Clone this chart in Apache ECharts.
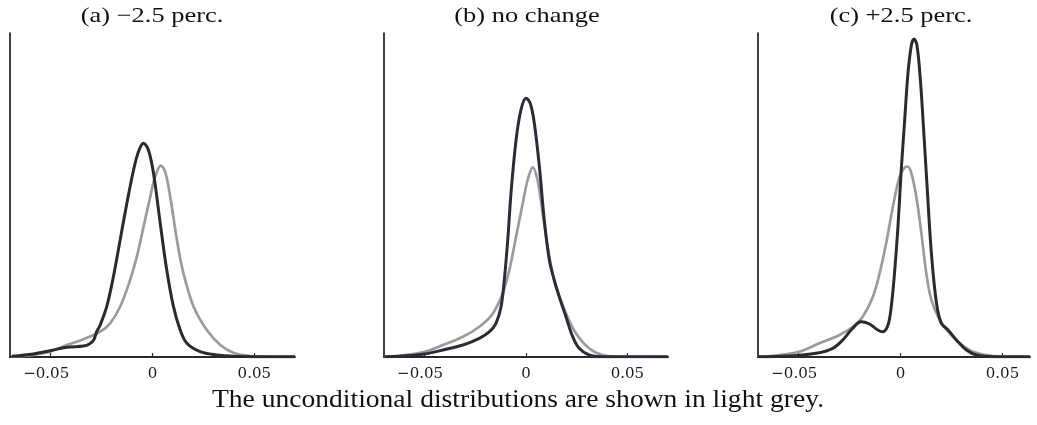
<!DOCTYPE html>
<html>
<head>
<meta charset="utf-8">
<script src="https://cdn.jsdelivr.net/npm/echarts@6/dist/echarts.min.js"></script>
<style>
  html, body { margin: 0; padding: 0; background: #fff; }
  #chart { width: 1037px; height: 425px; }
</style>
</head>
<body>
<div id="chart"></div>
<script>
// ---------- data ----------
const panelTitles = ['(a) \u22122.5 perc.', '(b) no change', '(c) +2.5 perc.'];
const captionText = 'The unconditional distributions are shown in light grey.';
const xTickValues = [-0.05, 0, 0.05];

// panel (a): -2.5 perc.
const darkA = [[-0.0692,0.07],[-0.0585,0.3],[-0.0503,0.63],[-0.0421,0.97],[-0.0339,1.1],[-0.031,1.3],[-0.0289,1.7],[-0.0274,2.53],[-0.0257,3.2],[-0.0225,5.03],[-0.0192,8.03],[-0.0159,11.7],[-0.0126,15.37],[-0.0093,18.7],[-0.0069,20.53],[-0.0044,21.37],[-0.002,20.7],[0.0005,18.37],[0.0038,13.37],[0.007,8.7],[0.0103,5.03],[0.0136,2.7],[0.0169,1.37],[0.0234,0.53],[0.0316,0.2],[0.0398,0.07],[0.0562,0.03],[0.07,0.02]];
const greyA = [[-0.0692,0.03],[-0.0585,0.2],[-0.0503,0.53],[-0.0421,1.2],[-0.0339,1.77],[-0.0257,2.53],[-0.0208,3.37],[-0.0159,5.03],[-0.011,7.7],[-0.0077,10.03],[-0.0044,13.03],[-0.0011,16.03],[0.0013,18.03],[0.0041,19.13],[0.0062,18.53],[0.0087,16.03],[0.012,11.7],[0.0152,8.37],[0.0202,5.03],[0.0267,2.7],[0.0333,1.2],[0.0398,0.43],[0.048,0.1],[0.0562,0.03],[0.07,0.02]];

// panel (b): no change
const darkB = [[-0.0697,0.03],[-0.0607,0.1],[-0.05,0.3],[-0.041,0.7],[-0.0311,1.2],[-0.023,1.87],[-0.018,2.53],[-0.0148,3.37],[-0.0123,5.03],[-0.0107,7.7],[-0.009,11.7],[-0.0074,16.37],[-0.0049,21.7],[-0.0025,24.7],[0,25.87],[0.0021,25.37],[0.0041,23.37],[0.0066,19.03],[0.009,13.7],[0.0115,9.7],[0.0139,7.7],[0.0164,6.03],[0.0197,4.03],[0.023,2.03],[0.0262,0.87],[0.0311,0.2],[0.0377,0.03],[0.07,0.02]];
const greyB = [[-0.0697,0.03],[-0.0607,0.17],[-0.05,0.53],[-0.041,1.2],[-0.0311,2.03],[-0.023,3.03],[-0.0164,4.33],[-0.0115,6.37],[-0.0082,8.7],[-0.0049,12.03],[-0.0016,15.37],[0.0008,17.7],[0.0033,18.97],[0.0057,17.7],[0.0082,14.37],[0.0115,10.03],[0.0148,7.03],[0.0197,4.37],[0.0246,2.37],[0.0311,0.87],[0.0377,0.2],[0.0475,0.03],[0.07,0.02]];

// panel (c): +2.5 perc.
const darkC = [[-0.0703,0.03],[-0.0547,0.1],[-0.0415,0.37],[-0.0333,0.87],[-0.0284,1.7],[-0.0235,2.87],[-0.0194,3.53],[-0.0153,3.3],[-0.0112,2.7],[-0.0087,2.53],[-0.0062,3.2],[-0.0046,5.03],[-0.003,8.37],[-0.0013,13.03],[0.0003,18.7],[0.002,23.7],[0.0036,28.37],[0.0053,31.2],[0.0066,31.8],[0.008,31.2],[0.0097,27.7],[0.0113,22.7],[0.013,17.03],[0.0151,10.37],[0.0176,5.37],[0.02,3.37],[0.0233,2.7],[0.0274,1.7],[0.0323,0.7],[0.0373,0.2],[0.0455,0.03],[0.0635,0.02]];
const greyC = [[-0.0703,0.03],[-0.0596,0.2],[-0.0498,0.53],[-0.0399,1.37],[-0.03,2.2],[-0.0235,3.03],[-0.0186,4.03],[-0.0136,6.03],[-0.0103,8.37],[-0.0071,11.37],[-0.0038,15.03],[-0.0005,18.03],[0.0018,18.9],[0.0034,19.03],[0.0053,18.37],[0.0077,16.03],[0.0102,12.37],[0.0126,8.37],[0.0151,5.7],[0.0192,3.7],[0.0241,2.37],[0.0291,1.37],[0.0356,0.53],[0.0455,0.1],[0.0603,0.03]];

// ---------- layout / style ----------
const darkSeries = [darkA, darkB, darkC];
const greySeries = [greyA, greyB, greyC];
const grids = [
  { left: 10,  top: 33, width: 285, height: 324, xMin: -0.07, xMax: 0.07 },
  { left: 384, top: 33, width: 284, height: 324, xMin: -0.07, xMax: 0.07 },
  { left: 758, top: 33, width: 272, height: 324, xMin: -0.07, xMax: 0.0635 }
];
const darkColors = ['#2b2b2e', '#2b2b3a', '#2b2b2e'];
const greyColor = '#9b9b9b';

function fmt(v) {
  if (Math.abs(v) < 1e-12) return '0';
  const s = Math.abs(v).toFixed(2);
  // negative numbers: the minus sign hangs to the left of the tick
  return v < 0 ? '\u2212' + s + '{pad|}' : s;
}

const option = {
  backgroundColor: '#ffffff',
  animation: false,
  grid: grids.map(g => ({ left: g.left, top: g.top, width: g.width, height: g.height })),
  xAxis: grids.map((g, i) => ({
    type: 'value', gridIndex: i, min: g.xMin, max: g.xMax, position: 'bottom',
    axisLine: { show: true, onZero: false, lineStyle: { color: '#2a2a2a', width: 2 } },
    axisTick: { show: true, inside: true, length: 4, customValues: xTickValues, lineStyle: { color: '#2a2a2a', width: 1.2 } },
    axisLabel: { show: true, customValues: xTickValues, formatter: fmt, margin: 10,
      fontFamily: 'DejaVu Serif', fontSize: 15, color: '#1a1a1a',
      rich: { pad: { width: 9, fontSize: 15 } } },
    splitLine: { show: false }
  })),
  yAxis: grids.map((g, i) => ({
    type: 'value', gridIndex: i, min: 0, max: 32.4, position: 'left',
    axisLine: { show: true, onZero: false, lineStyle: { color: '#111', width: 1.6 } },
    axisTick: { show: false }, axisLabel: { show: false }, splitLine: { show: false }
  })),
  series: [],
  graphic: []
};

for (let i = 0; i < 3; i++) {
  option.series.push({
    type: 'line', xAxisIndex: i, yAxisIndex: i, data: greySeries[i],
    showSymbol: false, smooth: 0.35, z: 2,
    lineStyle: { color: greyColor, width: 2.7 }
  });
  option.series.push({
    type: 'line', xAxisIndex: i, yAxisIndex: i, data: darkSeries[i],
    showSymbol: false, smooth: 0.35, z: 3,
    lineStyle: { color: darkColors[i], width: 3 }
  });
}

const titleCenters = [152, 527, 901];
titleCenters.forEach((cx, i) => {
  option.graphic.push({
    type: 'text', x: cx, y: 16, scaleX: 1.26, silent: true,
    style: { text: panelTitles[i], fill: '#111', font: '21px "Liberation Serif"',
      align: 'center', verticalAlign: 'middle' }
  });
});
option.graphic.push({
  type: 'text', x: 518, y: 400, scaleX: 1.06, silent: true,
  style: { text: captionText, fill: '#111', font: '26px "Liberation Serif"',
    align: 'center', verticalAlign: 'middle' }
});

const chart = echarts.init(document.getElementById('chart'), null, { renderer: 'canvas' });
chart.setOption(option);
</script>
</body>
</html>
